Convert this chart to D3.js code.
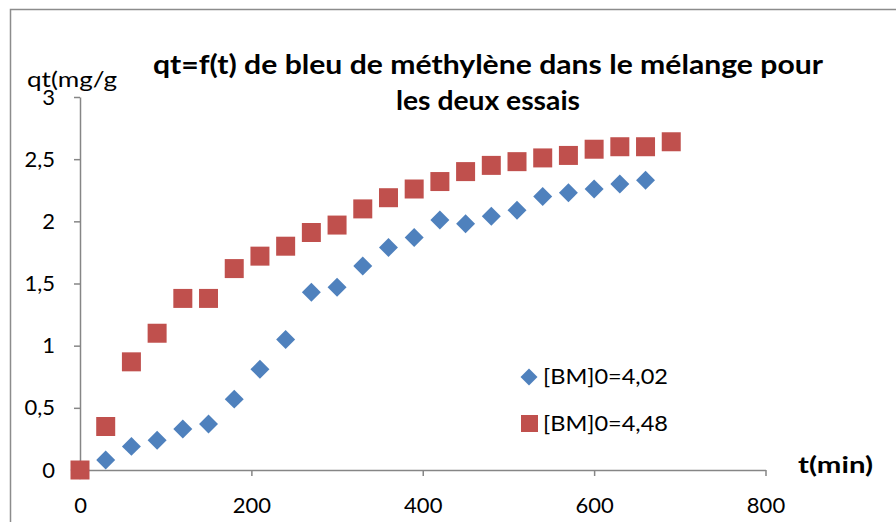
<!DOCTYPE html>
<html>
<head>
<meta charset="utf-8">
<script src="https://cdn.jsdelivr.net/npm/d3@7"></script>
<style>
  html, body { margin: 0; padding: 0; background: #fff; }
  svg { display: block; }
  text { font-family: Lato, "Open Sans", sans-serif; fill: #000; }
</style>
</head>
<body>
<svg id="chart" width="896" height="522"></svg>
<script>
// Sampling times (min)
const timesA = [0, 30, 60, 90, 120, 150, 180, 210, 240, 270, 300, 330, 360, 390, 420, 450, 480, 510, 540, 570, 600, 630, 660];
const timesB = [0, 30, 60, 90, 120, 150, 180, 210, 240, 270, 300, 330, 360, 390, 420, 450, 480, 510, 540, 570, 600, 630, 660, 690];

// Adsorbed quantity qt (mg/g) for each trial
const qtA = [0, 0.08, 0.19, 0.24, 0.33, 0.37, 0.57, 0.81, 1.05, 1.43, 1.47, 1.64, 1.79, 1.87, 2.01, 1.98, 2.04, 2.09, 2.20, 2.23, 2.26, 2.30, 2.33];
const qtB = [0, 0.35, 0.87, 1.10, 1.38, 1.38, 1.62, 1.72, 1.80, 1.91, 1.97, 2.10, 2.19, 2.26, 2.32, 2.40, 2.45, 2.48, 2.51, 2.53, 2.58, 2.60, 2.60, 2.64];

const seriesNames = ["[BM]0=4,02", "[BM]0=4,48"];
const xTicks = [0, 200, 400, 600, 800];
const yTicks = [0, 0.5, 1, 1.5, 2, 2.5, 3];

const titleLines = ["qt=f(t) de bleu de méthylène dans le mélange pour", "les deux essais"];
const yTitle = "qt(mg/g";
const xTitle = "t(min)";

const blue = "#4F81BD";
const red = "#C0504D";
const axisGrey = "#868686";

const svg = d3.select("#chart");

// Outer chart frame
svg.append("rect")
  .attr("x", 10.5).attr("y", 9.5)
  .attr("width", 900).attr("height", 530)
  .attr("fill", "none").attr("stroke", "#8c8c8c").attr("stroke-width", 1.5);

const x = d3.scaleLinear().domain([0, 800]).range([80, 765.5]);
const y = d3.scaleLinear().domain([0, 3]).range([470, 97]);

const fr = d3.formatLocale({ decimal: ",", thousands: " ", grouping: [3], currency: ["", ""] });
const fmt = fr.format("~g");

// Axes
const gx = svg.append("g")
  .attr("transform", `translate(0,${y(0)})`)
  .call(d3.axisBottom(x).tickValues(xTicks).tickSize(6).tickPadding(21).tickSizeOuter(0));
const gy = svg.append("g")
  .attr("transform", `translate(${x(0)},0)`)
  .call(d3.axisLeft(y).tickValues(yTicks).tickFormat(fmt).tickSize(6).tickPadding(19).tickSizeOuter(0));

[gx, gy].forEach(g => {
  g.select(".domain").attr("stroke", axisGrey).attr("stroke-width", 1.5);
  g.selectAll(".tick line").attr("stroke", axisGrey).attr("stroke-width", 1.5);
  g.selectAll(".tick text")
    .attr("font-family", "Lato, sans-serif")
    .attr("font-size", 22)
    .attr("fill", "#000");
});

// Series A: diamonds
const diamond = d3.symbol().type(d3.symbolSquare).size(180);
svg.append("g").selectAll("path")
  .data(timesA.map((t, i) => [t, qtA[i]]))
  .join("path")
  .attr("d", diamond)
  .attr("transform", d => `translate(${x(d[0])},${y(d[1])}) rotate(45)`)
  .attr("fill", blue);

// Series B: squares
const square = d3.symbol().type(d3.symbolSquare).size(361);
svg.append("g").selectAll("path")
  .data(timesB.map((t, i) => [t, qtB[i]]))
  .join("path")
  .attr("d", square)
  .attr("transform", d => `translate(${x(d[0])},${y(d[1])})`)
  .attr("fill", red);

// Title
const title = svg.append("g");
const titleWidths = [670, 184];
titleLines.forEach((line, i) => {
  title.append("text")
    .attr("x", 488).attr("y", 74 + i * 36)
    .attr("text-anchor", "middle")
    .attr("font-size", 27)
    .attr("font-weight", "bold")
    .attr("textLength", titleWidths[i])
    .attr("lengthAdjust", "spacingAndGlyphs")
    .text(line);
});

// Axis titles
svg.append("text")
  .attr("x", 27).attr("y", 87)
  .attr("font-size", 22)
  .attr("textLength", 90)
  .attr("lengthAdjust", "spacingAndGlyphs")
  .text(yTitle);
svg.append("text")
  .attr("x", 798).attr("y", 473)
  .attr("font-size", 22)
  .attr("font-weight", "bold")
  .attr("textLength", 75)
  .attr("lengthAdjust", "spacingAndGlyphs")
  .text(xTitle);

// Legend
const legend = svg.append("g");
legend.append("path")
  .attr("d", d3.symbol().type(d3.symbolSquare).size(144))
  .attr("transform", "translate(529,377) rotate(45)")
  .attr("fill", blue);
legend.append("path")
  .attr("d", d3.symbol().type(d3.symbolSquare).size(289))
  .attr("transform", "translate(529.5,423.5)")
  .attr("fill", red);
seriesNames.forEach((name, i) => {
  legend.append("text")
    .attr("x", 543).attr("y", 384 + i * 47)
    .attr("font-size", 21)
    .attr("textLength", 125)
    .attr("lengthAdjust", "spacingAndGlyphs")
    .text(name);
});
</script>
</body>
</html>
